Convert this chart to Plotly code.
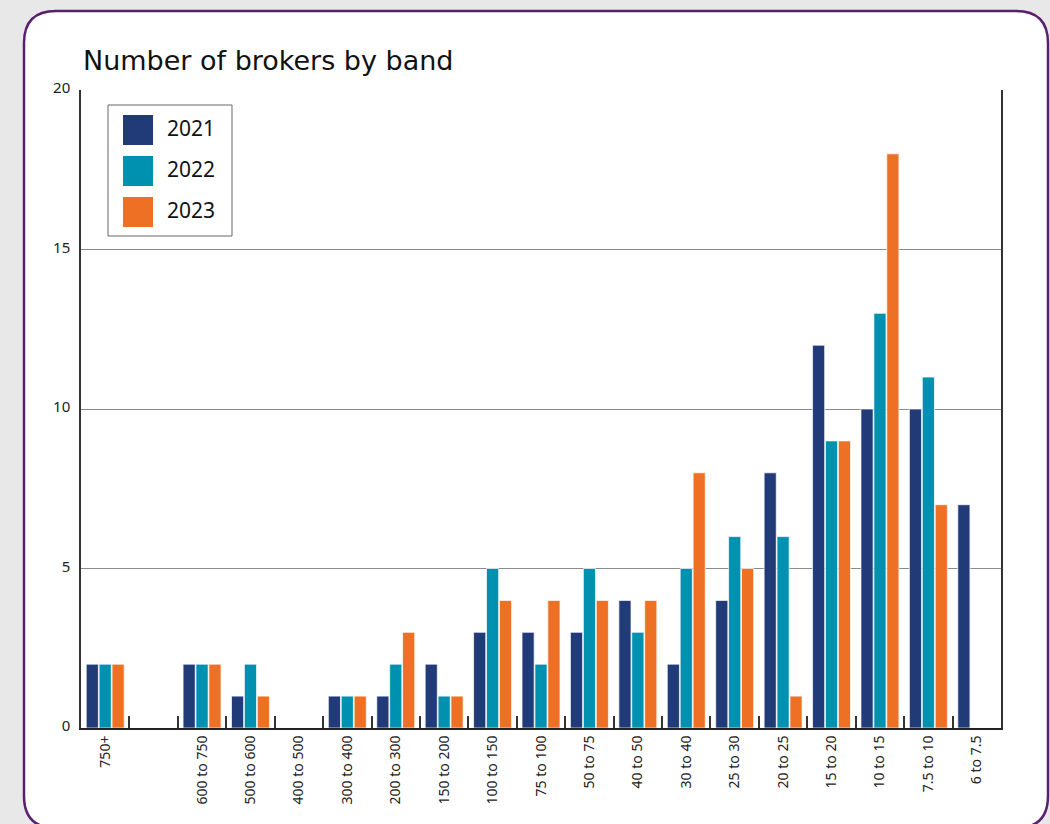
import plotly.graph_objects as go

# ---------------- data ----------------
bands = ["750+", " ", "600 to 750", "500 to 600", "400 to 500", "300 to 400",
         "200 to 300", "150 to 200", "100 to 150", "75 to 100", "50 to 75",
         "40 to 50", "30 to 40", "25 to 30", "20 to 25", "15 to 20",
         "10 to 15", "7.5 to 10", "6 to 7.5"]
years = ["2021", "2022", "2023"]
v2021 = [2, None, 2, 1, 0, 1, 1, 2, 3, 3, 3, 4, 2, 4, 8, 12, 10, 10, 7]
v2022 = [2, None, 2, 2, 0, 1, 2, 1, 5, 2, 5, 3, 5, 6, 6, 9, 13, 11, None]
v2023 = [2, None, 2, 1, 0, 1, 3, 1, 4, 4, 4, 4, 8, 5, 1, 9, 18, 7, None]
series = [v2021, v2022, v2023]
colors = ["#213a78", "#0091b1", "#ee7024"]
y_ticks = [0, 5, 10, 15, 20]
title = "Number of brokers by band"

# ---------------- geometry helpers (page pixels -> paper) ----------------
W, H = 1050, 824
L, R, T, B = 81, 1001, 90, 728
def px(x):
    return (x - L) / (R - L)
def py(y):
    return (B - y) / (B - T)

fig = go.Figure()
for name, vals, col in zip(years, series, colors):
    fig.add_trace(go.Bar(
        x=bands, y=vals, name=name, showlegend=False,
        marker=dict(color=col, line=dict(color="rgba(255,255,255,0.7)", width=1)),
    ))

# rounded white card with purple border
x0, x1, y0, y1, r = 24, 1048, 11, 828, 32
path = (f"M {px(x0+r)},{py(y0)} L {px(x1-r)},{py(y0)} "
        f"Q {px(x1)},{py(y0)} {px(x1)},{py(y0+r)} "
        f"L {px(x1)},{py(y1-r)} Q {px(x1)},{py(y1)} {px(x1-r)},{py(y1)} "
        f"L {px(x0+r)},{py(y1)} Q {px(x0)},{py(y1)} {px(x0)},{py(y1-r)} "
        f"L {px(x0)},{py(y0+r)} Q {px(x0)},{py(y0)} {px(x0+r)},{py(y0)} Z")
shapes = [dict(type="path", path=path, xref="paper", yref="paper",
               fillcolor="white", line=dict(color="#5a1f6e", width=2.5),
               layer="below")]

# manual legend
shapes.append(dict(type="rect", xref="paper", yref="paper",
                   x0=px(108), x1=px(232), y0=py(105), y1=py(236),
                   line=dict(color="#666666", width=1), fillcolor="white",
                   layer="above"))
annotations = []
for i, (name, col) in enumerate(zip(years, colors)):
    top = 115 + i * 41
    shapes.append(dict(type="rect", xref="paper", yref="paper",
                       x0=px(123), x1=px(153), y0=py(top), y1=py(top + 30),
                       line=dict(color=col, width=0), fillcolor=col,
                       layer="above"))
    annotations.append(dict(text=name, xref="paper", yref="paper",
                            x=px(165), y=py(top + 13), xanchor="left",
                            yanchor="middle", showarrow=False,
                            font=dict(family="Noto Sans", size=21, color="#111111")))

annotations.append(dict(text=title, xref="paper", yref="paper",
                        x=0, y=py(60), xanchor="left", yanchor="middle",
                        showarrow=False,
                        font=dict(family="DejaVu Sans", size=27, color="#111111")))

fig.update_layout(
    width=W, height=H,
    margin=dict(l=L, r=W - R, t=T, b=H - B),
    paper_bgcolor="#e8e8e8",
    plot_bgcolor="rgba(0,0,0,0)",
    barmode="group", bargap=0.2, bargroupgap=0.06,
    shapes=shapes, annotations=annotations,
    font=dict(family="Noto Sans", color="#222222"),
    xaxis=dict(
        type="category", categoryorder="array", categoryarray=bands,
        tickangle=-90, tickfont=dict(size=14, color="#222222"),
        showline=True, linecolor="#222222", linewidth=2,
        ticks="inside", tickson="boundaries", ticklen=12, tickwidth=2,
        tickcolor="#333333", showgrid=False, range=[-0.5, len(bands) - 0.5],
    ),
    yaxis=dict(
        range=[0, 20], tickvals=y_ticks, tickfont=dict(size=15, color="#222222"),
        showgrid=True, gridcolor="#8a8a8a", gridwidth=1,
        showline=True, linecolor="#333333", linewidth=1.5, mirror=True,
        zeroline=False, ticks="", ticklabelstandoff=6, ticklabelshift=-2,
    ),
)

fig.write_html("out.html")
